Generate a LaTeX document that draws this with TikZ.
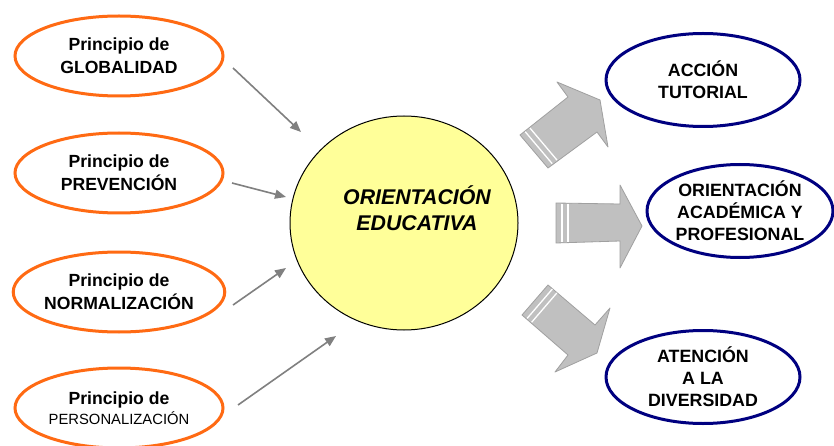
\documentclass[tikz,border=0pt]{standalone}
\usepackage{fontspec}
\setmainfont{Liberation Sans}
\usetikzlibrary{shapes.geometric,arrows.meta}
\definecolor{orng}{HTML}{FF6A13}
\definecolor{navy}{HTML}{000080}
\definecolor{pale}{HTML}{FFFF99}
\definecolor{arrgray}{HTML}{808080}
\definecolor{blockfill}{HTML}{C0C0C0}
\definecolor{blockline}{HTML}{A0A0A0}
\begin{document}
\begin{tikzpicture}[x=1pt,y=-1pt,
 principle/.style={ellipse,draw=orng,line width=3pt,fill=white,minimum width=208pt,minimum height=80pt,inner sep=0pt,align=center,font=\bfseries\fontsize{17.6}{23}\selectfont},
 area/.style={ellipse,draw=navy,line width=3pt,fill=white,minimum width=194pt,minimum height=93pt,inner sep=0pt,align=center,font=\bfseries\fontsize{17.8}{22}\selectfont},
 core/.style={ellipse,draw=black,line width=1pt,fill=pale,minimum width=228pt,minimum height=214pt,inner sep=0pt},
 coretxt/.style={align=center,inner sep=0pt,font=\bfseries\itshape\fontsize{21.3}{26}\selectfont},
 thin/.style={draw=arrgray,line width=1.6pt,-{Triangle[length=11pt,width=9pt]}},
 block/.style={fill=blockfill,draw=blockline,line width=0.8pt,line join=round},
 stripe/.style={draw=white,line width=1.3pt}]
\useasboundingbox (0,0) rectangle (834,446);
\fill[white] (0,0) rectangle (834,446);

% principles
\node[principle] (p1) at (119,56) {Principio de\\GLOBALIDAD};
\node[principle] (p2) at (119,173) {Principio de\\PREVENCIÓN};
\node[principle] (p3) at (119,292) {Principio de\\NORMALIZACIÓN};
\node[principle] (p4) at (119,408) {Principio de\\[-3pt]{\mdseries\fontsize{14.8}{20}\selectfont PERSONALIZACIÓN}};

% core
\node[core] (core) at (404,223) {};
\node[coretxt] (coretext) at (417,208) {ORIENTACIÓN\\EDUCATIVA};

% areas
\node[area] (a1) at (703,80) {ACCIÓN\\TUTORIAL};
\node[area, minimum width=186pt] (a2) at (740,211) {ORIENTACIÓN\\ACADÉMICA Y\\PROFESIONAL};
\node[area] (a3) at (703,377) {ATENCIÓN\\A LA\\DIVERSIDAD};

% thin arrows
\coordinate (s1) at (233,68);  \coordinate (e1) at (301,132);
\coordinate (s2) at (232,183); \coordinate (e2) at (286,197);
\coordinate (s3) at (233,305); \coordinate (e3) at (286,268);
\coordinate (s4) at (238,405); \coordinate (e4) at (336,336);
\draw[thin] (s1) -- (e1);
\draw[thin] (s2) -- (e2);
\draw[thin] (s3) -- (e3);
\draw[thin] (s4) -- (e4);

% block arrows
\draw[block] (520,135) -- (568,97) -- (557,82) -- (600,100) -- (608,147) -- (597,132) -- (548,168) -- cycle;
\draw[stripe] (525.2,131.7) -- (552.2,163.7);
\draw[stripe] (530.0,128.1) -- (557.0,160.1);

\draw[block] (556,203) -- (620,204) -- (620,185) -- (642,226) -- (620,268) -- (620,241) -- (556,243) -- cycle;
\draw[stripe] (562,203.8) -- (562,242.2);
\draw[stripe] (568,204) -- (568,242);

\draw[block] (522,315) -- (548,285) -- (595,325) -- (610,308) -- (597,353) -- (555,372) -- (568,355) -- cycle;
\draw[stripe] (527.1,318.4) -- (552.3,289.1);
\draw[stripe] (531.6,322.3) -- (556.8,293.0);
\end{tikzpicture}
\end{document}
